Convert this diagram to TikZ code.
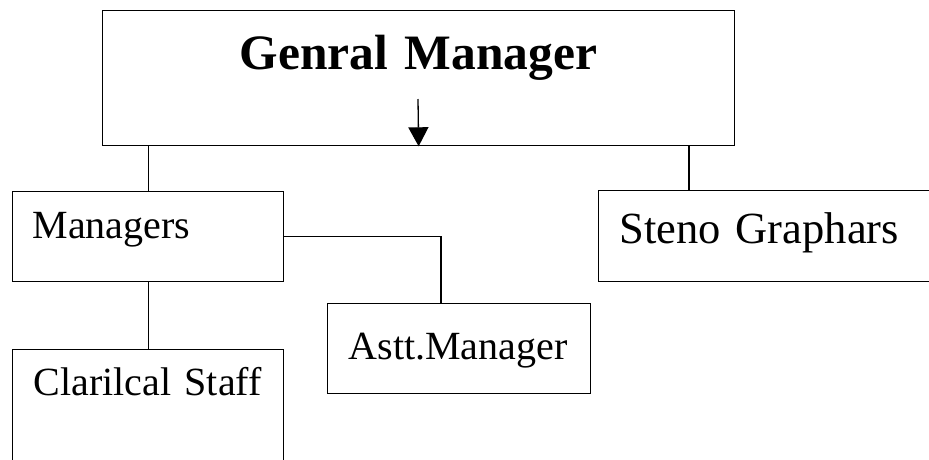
\documentclass[tikz,border=0pt]{standalone}
\usepackage{fontspec}
\setmainfont{Liberation Serif}
\usetikzlibrary{arrows.meta}

\begin{document}
\begin{tikzpicture}[x=1pt, y=-1pt,
        box/.style={draw, line width=1.3pt, anchor=north west, inner ysep=0pt, inner xsep=21pt, align=left},
        big/.style={font=\fontsize{49.5}{56}\selectfont\bfseries},
        mid/.style={font=\fontsize{44.5}{52}\selectfont},
        small/.style={font=\fontsize{40}{48}\selectfont},
        link/.style={line width=1.3pt}]
        \path[use as bounding box, clip] (0,0) rectangle (929,459);

        \node[box, big, align=center, inner xsep=0pt, text width=632pt, text height=59pt, text depth=76pt] (gm) at (102,10) {Genral Manager};
        \node[box, small, inner xsep=20pt, text width=231pt, text height=47pt, text depth=43pt] (mgr) at (12,191) {Managers};
        \node[box, mid, text width=320pt, text height=53pt, text depth=38pt] (steno) at (598,190) {Steno Graphars};
        \node[box, small, text width=221pt, text height=56pt, text depth=34pt] (astt) at (327,303) {Astt.Manager};
        \node[box, small, text width=229pt, text height=46pt, text depth=75pt] (clar) at (12,349) {Clarilcal Staff};

        \coordinate (gmarr) at (418,99);
        \coordinate (stenoin) at (689,190);

        \draw[link, -{Triangle[width=20pt,length=19pt]}] (gmarr) -- (gm.south);
        \draw[link] (mgr.north |- gm.south) -- (mgr.north)
                    (stenoin |- gm.south) -- (stenoin)
                    (mgr.south) -- (clar.north)
                    (mgr.east) -| ([xshift=114pt]astt.north west);
\end{tikzpicture}
\end{document}
